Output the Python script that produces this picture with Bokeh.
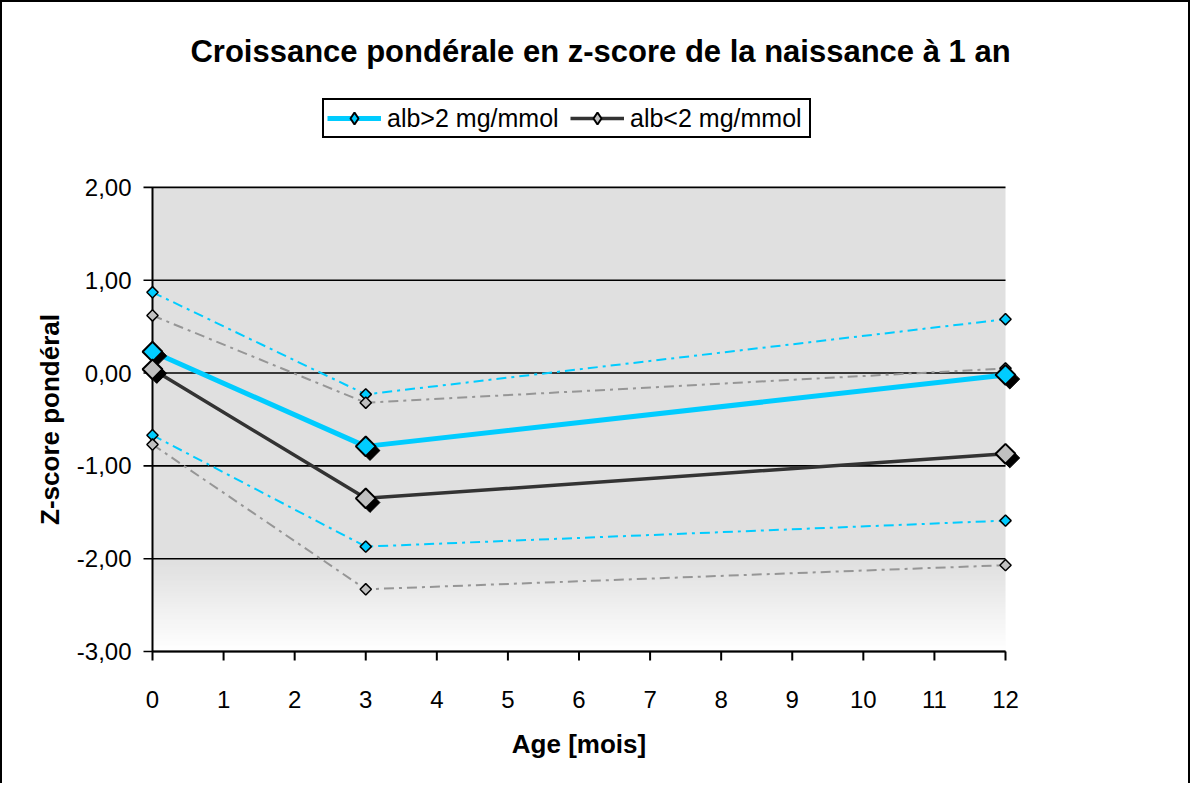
import numpy as np
from bokeh.plotting import figure
from bokeh.models import Legend, LegendItem, Label, ColumnDataSource, Range1d
from bokeh.core.properties import value
from bokeh.transform import dodge
from bokeh.embed import file_html
from bokeh.resources import INLINE

# ---- data ----
months = [0, 3, 12]
alb_hi_mean = [0.23, -0.79, -0.02]
alb_hi_upper = [0.87, -0.23, 0.58]
alb_hi_lower = [-0.67, -1.87, -1.59]
alb_lo_mean = [0.04, -1.35, -0.87]
alb_lo_upper = [0.62, -0.32, 0.05]
alb_lo_lower = [-0.77, -2.33, -2.07]
x_ticks = list(range(0, 13))
x_tick_labels = [str(t) for t in x_ticks]
y_ticks = [-3, -2, -1, 0, 1, 2]
y_tick_labels = ["-3,00", "-2,00", "-1,00", "0,00", "1,00", "2,00"]
title_text = "Croissance pondérale en z-score de la naissance à 1 an"
x_title = "Age [mois]"
y_title = "Z-score pondéral"
label_hi = "alb>2 mg/mmol"
label_lo = "alb<2 mg/mmol"

CYAN = "#00CCFF"
DARK = "#333333"
GRAY_FILL = "#C0C0C0"
GRAY_CI = "#969696"
FONT = "Liberation Sans"

# ---- layout (pixels) ----
PX_X = 853 / 12.0      # px per month
PX_Y = 464.1 / 5.0     # px per z unit
AXIS_X = 150           # px from frame left to x = 0
BELOW = 132            # px from y = -3 down to frame bottom
FRAME_W, FRAME_H = 1152, 753
x_start = months[0] - AXIS_X / PX_X
x_range = Range1d(x_start, x_start + FRAME_W / PX_X)
y_start = y_ticks[0] - BELOW / PX_Y
y_range = Range1d(y_start, y_start + FRAME_H / PX_Y)

p = figure(frame_width=FRAME_W, frame_height=FRAME_H, output_backend="svg",
           toolbar_location=None, x_range=x_range, y_range=y_range,
           x_axis_location=None, y_axis_location=None,
           min_border_left=0, min_border_top=28, min_border_right=34, min_border_bottom=0,
           styles={"border-left": "2px solid black", "border-top": "2px solid black",
                   "border-right": "2px solid black"})
p.outline_line_color = None
p.background_fill_color = "white"
p.border_fill_color = "white"
p.grid.grid_line_color = None

# background gradient of the plot area
n = 250
ys = np.linspace(y_ticks[0], y_ticks[-1], n)
img = np.zeros((n, 1), dtype=np.uint32)
view = img.view(dtype=np.uint8).reshape((n, 1, 4))
for i, yv in enumerate(ys):
    if yv >= -2.05:
        c = 224
    else:
        t = (yv - y_ticks[0]) / 0.95
        c = int(round(255 - (255 - 224) * t))
    view[i, 0, :3] = c
    view[i, 0, 3] = 255
p.image_rgba(image=[img], x=months[0], y=y_ticks[0], dw=months[-1] - months[0],
             dh=y_ticks[-1] - y_ticks[0], level="image")

TICK = 9
# horizontal grid lines (with tick stubs left of the y axis)
p.segment(x0=[months[0] - TICK / PX_X] * len(y_ticks), y0=y_ticks,
          x1=[months[-1]] * len(y_ticks), y1=y_ticks,
          line_color="black", line_width=1.6, level="underlay")
# y axis line
p.segment(x0=[months[0]], y0=[y_ticks[0]], x1=[months[0]], y1=[y_ticks[-1]],
          line_color="black", line_width=2, level="underlay")
# x axis line and ticks
p.segment(x0=[months[0]], y0=[y_ticks[0]], x1=[months[-1]], y1=[y_ticks[0]],
          line_color="black", line_width=2, level="underlay")
p.segment(x0=x_ticks, y0=[y_ticks[0]] * len(x_ticks), x1=x_ticks,
          y1=[y_ticks[0] - TICK / PX_Y] * len(x_ticks),
          line_color="black", line_width=2, level="underlay")

# tick labels
p.text(x=[months[0]] * len(y_ticks), y=y_ticks, text=y_tick_labels, x_offset=-21,
       text_align="right", text_baseline="middle", text_font=value(FONT),
       text_font_size="24px", text_color="black")
p.text(x=x_ticks, y=[y_ticks[0] - 48 / PX_Y] * len(x_ticks), text=x_tick_labels,
       text_align="center", text_baseline="alphabetic", text_font=value(FONT),
       text_font_size="24px", text_color="black")

# axis titles
p.add_layout(Label(x=months[0], y=(y_ticks[0] + y_ticks[-1]) / 2, x_offset=-103,
                   angle=np.pi / 2, text=y_title, text_font=FONT, text_font_size="26px",
                   text_font_style="bold", text_align="center", text_baseline="middle",
                   text_color="black"))
p.add_layout(Label(x=(months[0] + months[-1]) / 2, y=y_ticks[0] - 92 / PX_Y,
                   text=x_title, text_font=FONT, text_font_size="26px",
                   text_font_style="bold", text_align="center", text_baseline="alphabetic",
                   text_color="black"))

src = ColumnDataSource(dict(x=months, hi=alb_hi_mean, hi_u=alb_hi_upper, hi_l=alb_hi_lower,
                            lo=alb_lo_mean, lo_u=alb_lo_upper, lo_l=alb_lo_lower))

ANG = np.pi / 4
# confidence lines
for col, color in (("hi_u", CYAN), ("hi_l", CYAN), ("lo_u", GRAY_CI), ("lo_l", GRAY_CI)):
    p.line("x", col, source=src, line_color=color, line_width=2, line_dash="10 5 3 5")
for col, fill in (("hi_u", CYAN), ("hi_l", CYAN), ("lo_u", GRAY_FILL), ("lo_l", GRAY_FILL)):
    p.scatter("x", col, source=src, marker="square", angle=ANG, size=8,
              fill_color=fill, line_color="black", line_width=1.5)

# mean lines
r_hi_line = p.line("x", "hi", source=src, line_color=CYAN, line_width=5)
r_lo_line = p.line("x", "lo", source=src, line_color=DARK, line_width=3.5)
# marker shadows
for col in ("hi", "lo"):
    p.scatter(dodge("x", 0.06), dodge(col, -0.045), source=src, marker="square", angle=ANG,
              size=14, fill_color="black", line_color="black", line_width=1)
p.scatter("x", "hi", source=src, marker="square", angle=ANG, size=14,
          fill_color=CYAN, line_color="black", line_width=2)
p.scatter("x", "lo", source=src, marker="square", angle=ANG, size=14,
          fill_color=GRAY_FILL, line_color="black", line_width=2)

# legend marker proxies (not drawn in the plot: NaN position)
leg_hi_pt = p.scatter(x=[np.nan], y=[np.nan], marker="diamond", size=12, fill_color=CYAN,
                      line_color="black", line_width=2)
leg_lo_pt = p.scatter(x=[np.nan], y=[np.nan], marker="diamond", size=12,
                      fill_color=GRAY_FILL, line_color="black", line_width=2)

legend = Legend(items=[LegendItem(label=label_hi, renderers=[r_hi_line, leg_hi_pt], index=0),
                       LegendItem(label=label_lo, renderers=[r_lo_line, leg_lo_pt], index=0)],
                orientation="horizontal", location=(320, 783 - 138),
                border_line_color="black", border_line_width=2, border_line_alpha=1,
                background_fill_color="white", background_fill_alpha=1,
                label_text_font=FONT, label_text_font_size="25px", label_text_color="black",
                glyph_width=54, glyph_height=30, label_standoff=6, spacing=7,
                label_width=176, padding=3, margin=0)
p.add_layout(legend, "center")

# chart title
p.add_layout(Label(x=(600 - 152) / PX_X, y=y_ticks[-1] + (187.6 - 52) / PX_Y,
                   text=title_text, text_font=FONT, text_font_size="31px",
                   text_font_style="bold", text_align="center", text_baseline="middle",
                   text_color="black"))

open("out.html", "w").write(file_html(p, INLINE))
